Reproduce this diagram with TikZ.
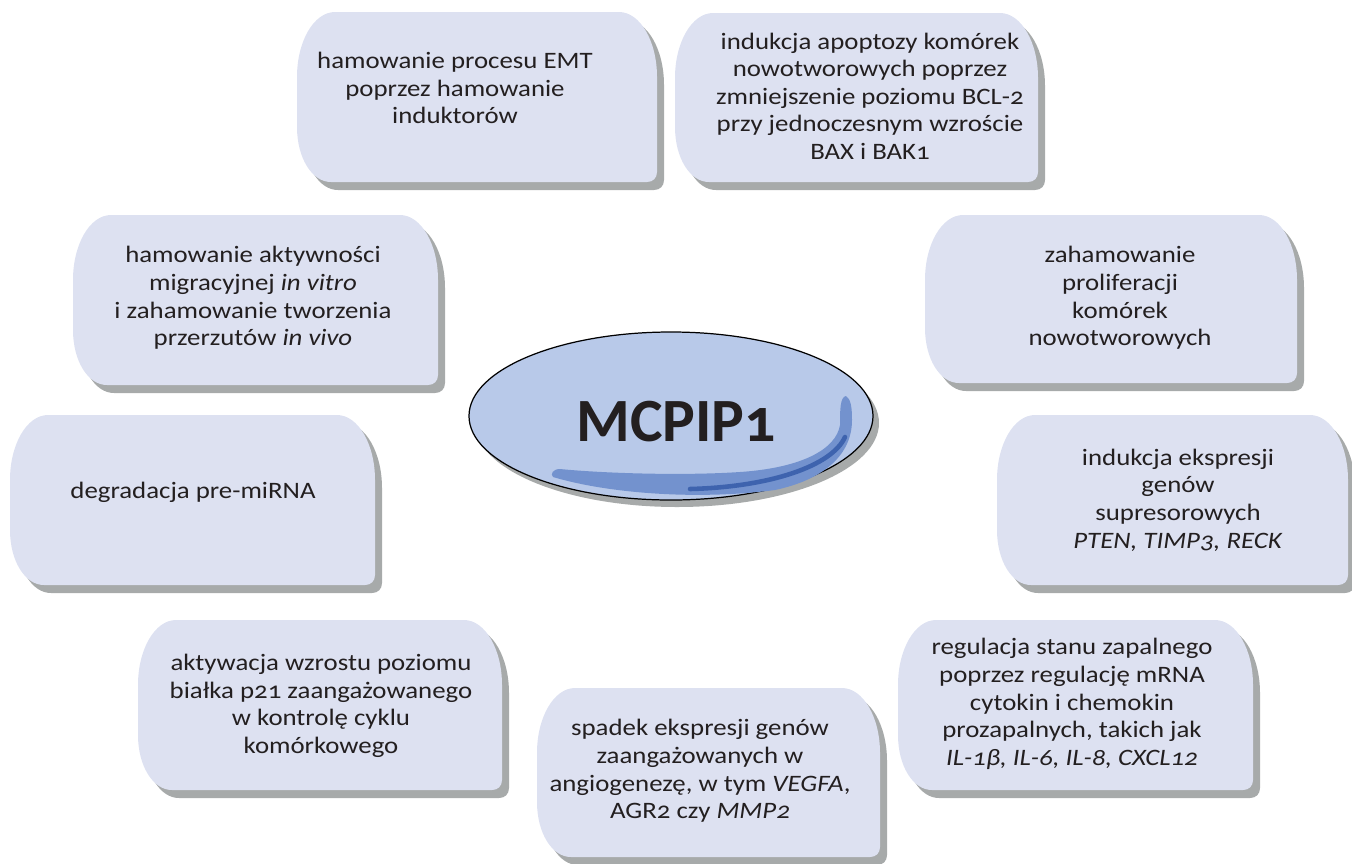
\documentclass[tikz,border=0pt]{standalone}
\usepackage{fontspec}
\setmainfont[FakeStretch=1.14,Numbers=OldStyle]{Carlito}
\newfontfamily\titlefont[Numbers=OldStyle]{Carlito}

\definecolor{bubblecol}{RGB}{221,225,241}
\definecolor{shadowcol}{RGB}{167,170,170}
\definecolor{ovalcol}{RGB}{184,201,233}
\definecolor{glosscol}{RGB}{115,146,206}
\definecolor{stripecol}{RGB}{62,99,174}
\definecolor{textcol}{RGB}{35,31,32}

\tikzset{
  bubble/.style={fill=bubblecol},
  bubbleshadow/.style={fill=shadowcol},
  txt/.style={align=center,text=textcol,inner sep=0pt,
    font=\fontsize{13.4}{15.7}\selectfont},
  title/.style={text=textcol,inner sep=0pt,
    font=\titlefont\bfseries\fontsize{35}{40}\selectfont}
}

% outline of one box: x1,y1 (top left) and x2,y2 (bottom right), in px
\newcommand\bubblepath[4]{%
  ({#1+38},#2) -- ({#3-38},#2)
  .. controls ({#3-17},#2) and (#3,{#2+29}) .. (#3,{#2+65})
  -- (#3,{#4-10})
  .. controls (#3,{#4-4}) and ({#3-4},#4) .. ({#3-10},#4)
  -- ({#1+34},#4)
  .. controls ({#1+15},#4) and (#1,{#4-24}) .. (#1,{#4-55})
  -- (#1,{#2+65})
  .. controls (#1,{#2+29}) and ({#1+17},#2) .. ({#1+38},#2) -- cycle}
\newcommand\bubble[4]{%
  \fill[bubbleshadow] \bubblepath{#1+7}{#2+8}{#3+7}{#4+8};
  \fill[bubble] \bubblepath{#1}{#2}{#3}{#4};}

\begin{document}
\begin{tikzpicture}[x=0.02cm,y=-0.02cm]
\useasboundingbox (0,0) rectangle (1352,863);

% boxes
\bubble{297}{12}{657}{182}
\bubble{675}{13}{1038}{182}
\bubble{73}{215}{438}{385}
\bubble{925}{215}{1297}{383}
\bubble{10}{415}{375}{585}
\bubble{997}{415}{1348}{585}
\bubble{138}{620}{502}{790}
\bubble{898}{620}{1253}{790}
\bubble{537}{688}{880}{857}

% centre oval
\fill[shadowcol] (677,423) ellipse [x radius=202, y radius=84];
\draw[fill=ovalcol,line width=0.7pt] (671,416) ellipse [x radius=202, y radius=84];
\fill[glosscol] (553,477) .. controls (610,494) and (700,500) .. (775,490)
  .. controls (822,480) and (852,456) .. (852,420)
  .. controls (852,408) and (851,399) .. (846,396)
  .. controls (840,397) and (840,410) .. (840,425)
  .. controls (836,450) and (800,468) .. (740,472)
  .. controls (680,476) and (600,473) .. (560,469)
  .. controls (553,469) and (550,474) .. (553,477) -- cycle;
\draw[stripecol,line width=2.6pt,line cap=round] (690,489) .. controls (770,487) and (832,466) .. (845,437);
\node[title] (mcpip) at (676,422) {MCPIP1};

% texts
\node[txt] (emt) at (455,88) {hamowanie procesu EMT\\poprzez hamowanie\\induktorów};
\node[txt] (apoptoza) at (870,96) {indukcja apoptozy komórek\\nowotworowych poprzez\\zmniejszenie poziomu BCL-2\\przy jednoczesnym wzroście\\BAX i BAK1};
\node[txt] (migracja) at (253,298) {hamowanie aktywności\\migracyjnej \textit{in vitro}\\i zahamowanie tworzenia\\przerzutów \textit{in vivo}};
\node[txt] (proliferacja) at (1120,298) {zahamowanie\\proliferacji\\komórek\\nowotworowych};
\node[txt] (premirna) at (193,492) {degradacja pre-miRNA};
\node[txt] (supresory) at (1178,500) {indukcja ekspresji\\genów\\supresorowych\\\textit{PTEN, TIMP3, RECK}};
\node[txt] (p21) at (321,706) {aktywacja wzrostu poziomu\\białka p21 zaangażowanego\\w kontrolę cyklu\\komórkowego};
\node[txt] (zapalenie) at (1072,704) {regulacja stanu zapalnego\\poprzez regulację mRNA\\cytokin i chemokin\\prozapalnych, takich jak\\\textit{IL-1β, IL-6, IL-8, CXCL12}};
\node[txt] (angiogeneza) at (700,771) {spadek ekspresji genów\\zaangażowanych w\\angiogenezę, w tym \textit{VEGFA},\\AGR2 czy \textit{MMP2}};
\end{tikzpicture}
\end{document}
